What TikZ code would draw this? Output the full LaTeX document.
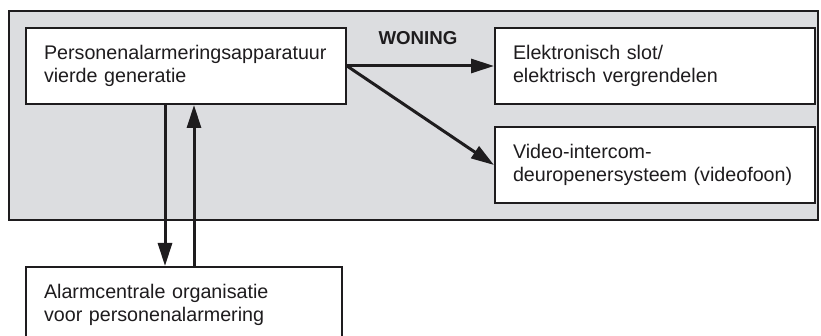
\documentclass[tikz,border=0pt]{standalone}
\usepackage{fontspec}
\setmainfont{Liberation Sans}
\usetikzlibrary{arrows.meta}
\definecolor{housegray}{RGB}{220,221,224}
\definecolor{ink}{RGB}{30,28,30}
\tikzset{
  infobox/.style={draw=ink, line width=2pt, fill=white, anchor=north west,
    inner xsep=18pt, inner ysep=0pt, minimum height=76pt, align=left,
    font=\fontsize{19.7}{23}\selectfont, text=ink},
  arr/.style={draw=ink, line width=3pt, -{Triangle[length=23pt,width=14pt]}},
}
\begin{document}
\begin{tikzpicture}[x=1pt,y=-1pt]
\useasboundingbox (0,0) rectangle (821,336);
\node[draw=ink, line width=2pt, fill=housegray, anchor=north west, inner sep=0pt,
  minimum width=809pt, minimum height=209pt] (house) at (8,10) {};
\node[anchor=base, font=\bfseries\fontsize{18.7}{22}\selectfont, text=ink] (wlabel) at (418,45) {WONING};
\node[infobox, text width=284pt] (p) at (25,27) {Personenalarmeringsapparatuur\\vierde generatie};
\node[infobox, text width=284pt] (e) at (494,27) {Elektronisch slot/\\elektrisch vergrendelen};
\node[infobox, text width=284pt] (v) at (494,126) {Video-intercom-\\deuropenersysteem (videofoon)};
\node[infobox, text width=280pt] (a) at (25,266) {Alarmcentrale organisatie\\voor personenalarmering};
\draw[arr] (p.east) -- (e.west);
\draw[arr] (p.east) -- (v.west);
\draw[arr] ([xshift=140pt]p.south west) -- ([xshift=140pt]a.north west);
\draw[arr] ([xshift=169pt]a.north west) -- ([xshift=169pt]p.south west);
\end{tikzpicture}
\end{document}
